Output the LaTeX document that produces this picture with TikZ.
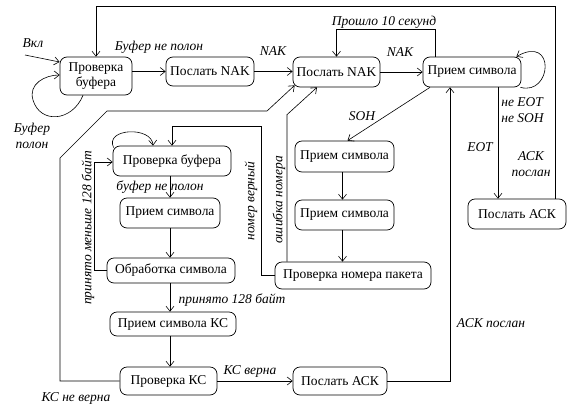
\documentclass[tikz,border=0pt]{standalone}
\usepackage{fontspec}
\setmainfont{Liberation Serif}
\newfontfamily\timesfont{Liberation Serif}
\usetikzlibrary{arrows.meta}

\tikzstyle{state}=[rectangle,rounded corners=7pt,draw=black,line width=0.7pt,align=center,inner sep=0pt,font=\timesfont\fontsize{13.5}{15}\selectfont]
\tikzstyle{lbl}=[inner sep=0pt,align=center,font=\timesfont\fontsize{13.5}{16}\selectfont\itshape]

\begin{document}
\begin{tikzpicture}[x=1pt,y=-1pt,>={Straight Barb[length=5pt,width=8pt]},line width=0.6pt]
	\useasboundingbox (0,0) rectangle (568,418);
	%\draw (0,0) rectangle (568,418);
	\node[state,minimum width=72pt,minimum height=38pt] (chk) at (96,76) {Проверка\\буфера};
	\node[state,minimum width=88pt,minimum height=29pt] (nak1) at (210,71.5) {Послать NAK};
	\node[state,minimum width=87pt,minimum height=30pt] (nak2) at (336.5,72) {Послать NAK};
	\node[state,minimum width=98pt,minimum height=30pt] (rcv) at (472,72) {Прием символа};
	\node[state,minimum width=98pt,minimum height=30pt] (ackR) at (517,214) {Послать АСК};

	\node[state,minimum width=99pt,minimum height=31pt] (rcvA) at (344.5,156.5) {Прием символа};
	\node[state,minimum width=99pt,minimum height=30pt] (rcvB) at (344.5,215) {Прием символа};
	\node[state,minimum width=156pt,minimum height=27pt] (num) at (353,275.5) {Проверка номера пакета};

	\node[state,minimum width=118pt,minimum height=30pt] (buf) at (172,161) {Проверка буфера};
	\node[state,minimum width=100pt,minimum height=30pt] (sym) at (170,213) {Прием символа};
	\node[state,minimum width=128pt,minimum height=25pt] (proc) at (171,270.5) {Обработка символа};
	\node[state,minimum width=126pt,minimum height=24pt] (ks) at (173,324) {Прием символа КС};
	\node[state,minimum width=97pt,minimum height=28pt] (chkKS) at (168.5,381) {Проверка КС};
	\node[state,minimum width=94pt,minimum height=28pt] (ackB) at (340,381) {Послать АСК};

	% top row
	\coordinate (on) at (25,55);
	\draw[->] (on) -- ([yshift=14pt]chk.west);
	\node[lbl] at (33,43) {Вкл};
	\draw[->] ([xshift=-13pt]chk.south) .. controls (72,122) and (40,124) .. (33,100) .. controls (28,84) and (45,75) .. ([yshift=1pt]chk.west);
	\node[lbl] at (32,136) {Буфер\\полон};
	\draw[->] (chk.east |- nak1.west) -- (nak1.west);
	\node[lbl] at (159,47) {Буфер не полон};
	\draw[->] (nak1.east) -- (nak2.west |- nak1.east);
	\node[lbl] at (273,51) {NAK};
	\draw[->] (nak2.east) -- (rcv.west);
	\node[lbl] at (400,52) {NAK};
	\draw[->] ([xshift=-37pt]rcv.north) -- ++(0,-27) -| (nak2.north);
	\node[lbl] at (384,22) {Прошло 10 секунд};
	\draw[->] ([xshift=-1pt]rcv.south east) .. controls (552,96) and (556,34) .. ([xshift=-5pt]rcv.north east);

	% right column
	\draw[->] ([xshift=-11pt]ackR.north east) -- ++(0,-192) -| (chk.north);
	\node[lbl] at (531,164) {АСК\\послан};
	\draw[->] ([xshift=26pt]rcv.south) -- ([xshift=26pt]rcv.south |- ackR.north);
	\node[lbl,anchor=west,align=left] at (501,110) {не EOT\\не SOH};
	\node[lbl] at (480,147) {EOT};
	\draw[->] (ackB.east) -| ([xshift=-22pt]rcv.south);
	\node[lbl] at (491,323) {АСК послан};

	% packet
	\draw[->] ([xshift=-42pt]rcv.south) -- ([xshift=3pt]rcvA.north);
	\node[lbl] at (362,116) {SOH};
	\draw[->] ([xshift=-2pt]rcvA.south) -- ([xshift=-2pt]rcvB.north);
	\draw[->] ([xshift=-2pt]rcvB.south) -- ([xshift=-2pt]rcvB.south |- num.north);
	\draw[->] ([xshift=-66pt]num.north) -- ++(0,-147) -- ([xshift=-19.5pt]nak2.south);
	\node[lbl,rotate=90] at (279,200) {ошибка номера};
	\draw[->] (num.west) -- ++(-13,0) -- ++(0,-149.5) -| (buf.north);
	\node[lbl,rotate=90] at (251,201) {номер верный};

	% data
	\draw[->] ([shift={(1pt,-2pt)}]buf.north west) .. controls (104,128) and (152,126) .. ([xshift=-19pt]buf.north);
	\draw[->] (buf.south -| sym) -- (sym.north);
	\node[lbl] at (160,187) {буфер не полон};
	\draw[->] (sym.south) -- (sym.south |- proc.north);
	\draw[->] (proc.west) -- ++(-12,0) |- ([yshift=-1pt]buf.west);
	\node[lbl,rotate=90] at (88,228) {принято меньше 128 байт};
	\draw[->] (proc.south -| sym) -- (ks.north -| sym);
	\node[lbl] at (232,300) {принято 128 байт};
	\draw[->] (ks.south -| sym) -- (chkKS.north -| sym);
	\draw[->] (chkKS.east) -- (ackB.west);
	\node[lbl] at (250,371) {КС верна};
	\draw[->] (chkKS.west) -| (60,158) -- (107,111) -- (267,111) -- ([shift={(2pt,2pt)}]nak2.south west);
	\node[lbl] at (76,398) {КС не верна};
\end{tikzpicture}
\end{document}
